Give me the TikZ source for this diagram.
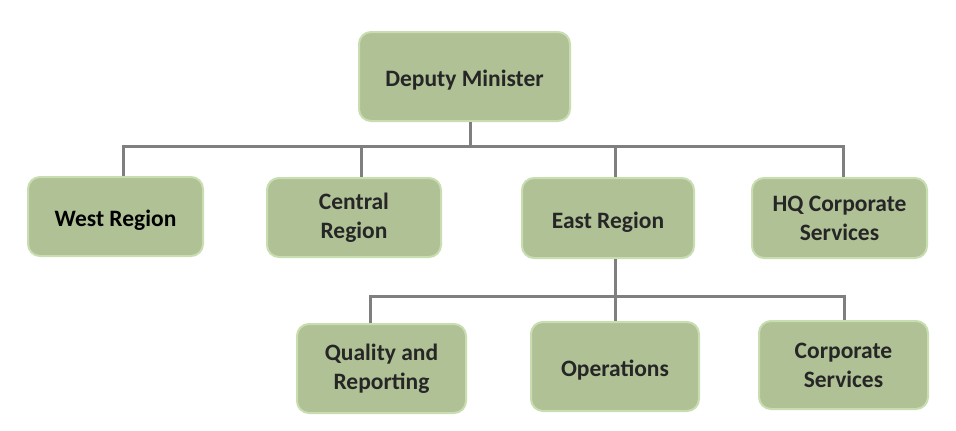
\documentclass[tikz,border=0pt]{standalone}
\usepackage{fontspec}
\setmainfont{Carlito}
\definecolor{boxfill}{HTML}{B0C196}
\definecolor{boxedge}{HTML}{C8DEB0}
\definecolor{linegray}{HTML}{7F7F7F}
\definecolor{txt}{HTML}{262626}
\begin{document}
\begin{tikzpicture}[x=1pt,y=-1pt,
  orgbox/.style={draw=boxedge, line width=2pt, fill=boxfill, rounded corners=12pt,
     align=center, font=\fontsize{23.5}{29}\selectfont\bfseries, text=txt, inner sep=0pt,
     execute at begin node={\rule{0pt}{24pt}}},
  twoline/.style={execute at begin node={\rule{0pt}{29pt}}},
  conn/.style={draw=linegray, line width=3pt}]
\useasboundingbox (0,0) rectangle (956,431);
\node[orgbox, minimum width=211pt, minimum height=89pt] (dm) at (464.5,76.5) {Deputy Minister};
\node[orgbox, minimum width=175pt, minimum height=79pt, text=black] (west) at (115.5,216.5) {West Region};
\node[orgbox, twoline, minimum width=174pt, minimum height=79pt] (central) at (354,217.5) {Central\\Region};
\node[orgbox, minimum width=172pt, minimum height=80pt] (east) at (608,218) {East Region};
\node[orgbox, twoline, minimum width=175pt, minimum height=80pt] (hq) at (839.5,218) {HQ Corporate\\Services};
\node[orgbox, twoline, minimum width=169pt, minimum height=89pt] (qr) at (381.5,368.5) {Quality and\\Reporting};
\node[orgbox, minimum width=168pt, minimum height=89pt] (ops) at (615,366.5) {Operations};
\node[orgbox, twoline, minimum width=169pt, minimum height=88pt] (cs) at (843.5,365) {Corporate\\Services};
% level 1
\coordinate (dmj) at (470,146);
\draw[conn] (dm.south -| dmj) -- (dmj);
\draw[conn] (west.north -| 123,0) -- (123,146) -- (843,146) -- (hq.north -| 843,0);
\draw[conn] (361,146) -- (central.north -| 361,0);
\draw[conn] (615,146) -- (east.north -| 615,0);
% level 2
\draw[conn] (east.south -| 615,0) -- (ops.north -| 615,0);
\draw[conn] (qr.north -| 370,0) -- (370,296) -- (844,296) -- (cs.north -| 844,0);
\end{tikzpicture}
\end{document}
